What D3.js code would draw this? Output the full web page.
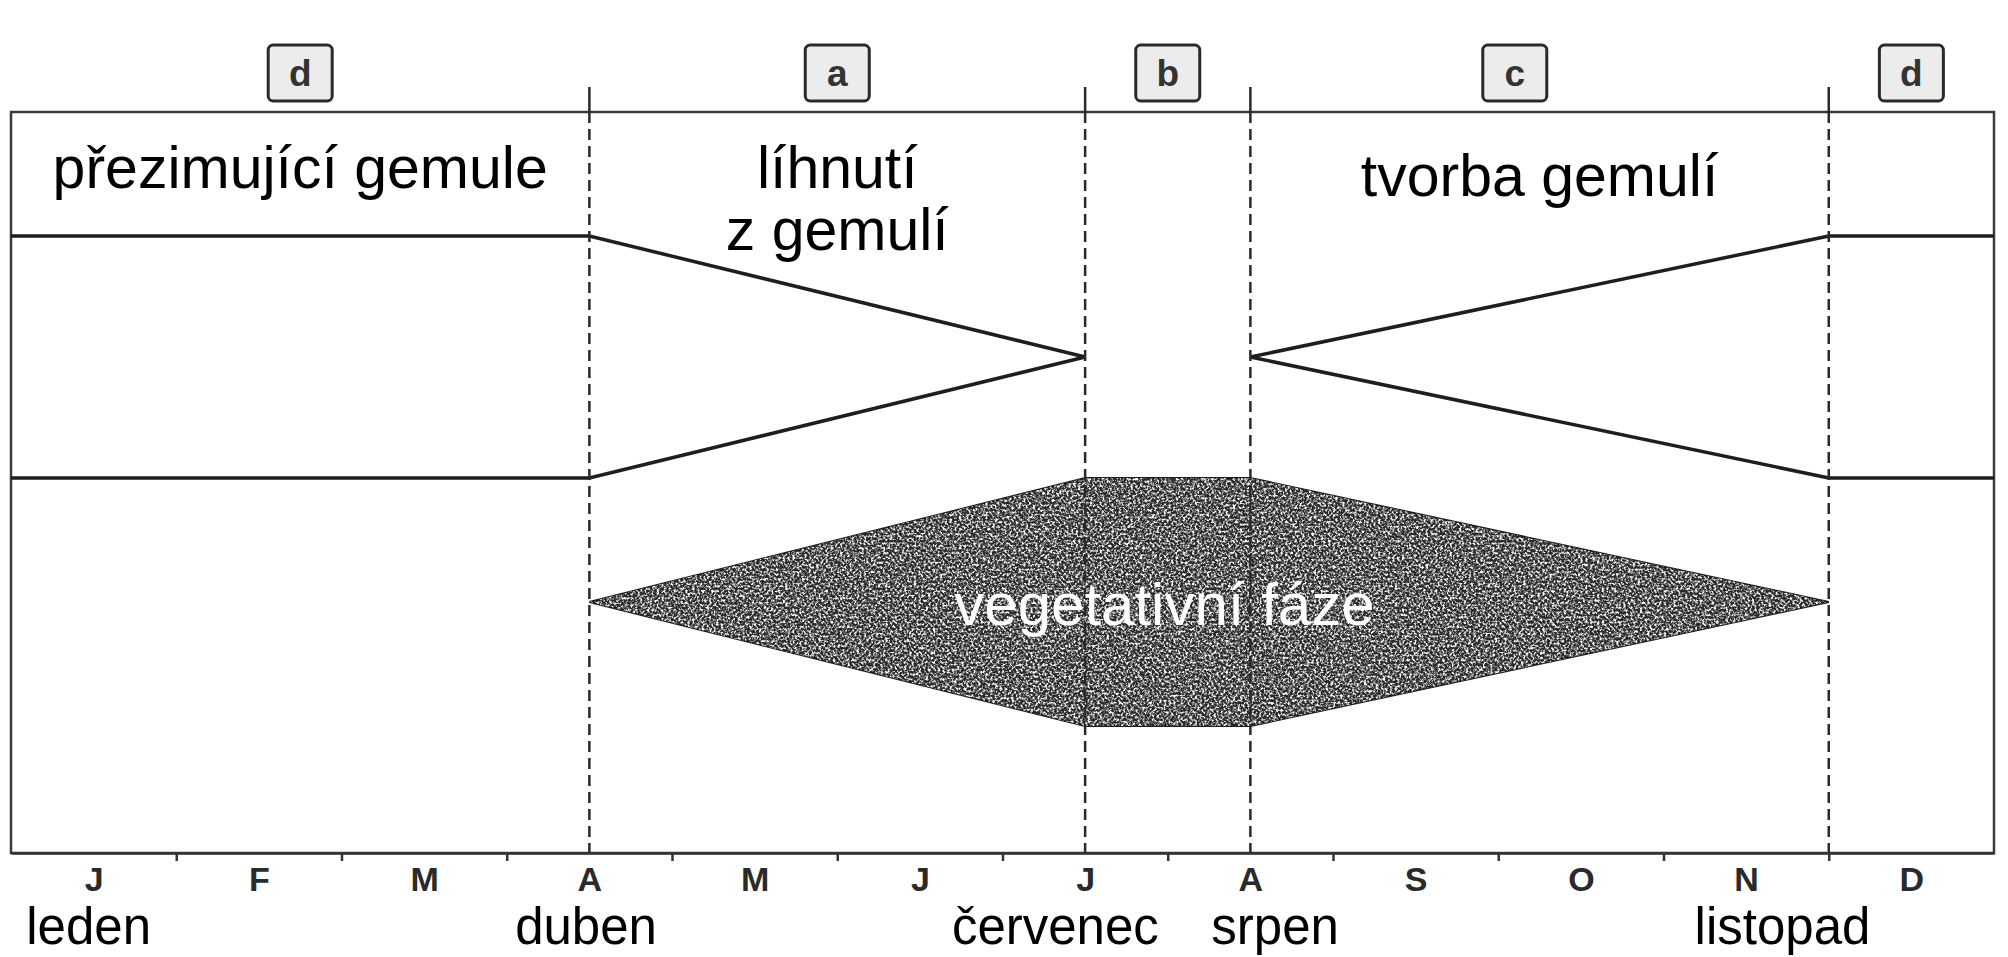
<!DOCTYPE html>
<html>
<head>
<meta charset="utf-8">
<script src="https://cdn.jsdelivr.net/npm/d3@7/dist/d3.min.js"></script>
<style>
  html, body { margin: 0; padding: 0; background: #fff; }
  svg { display: block; }
  text { font-family: "Liberation Sans", Arial, sans-serif; }
</style>
</head>
<body>
<svg id="chart" width="2008" height="957"></svg>
<script>
// month letters on the bottom axis (Jan..Dec)
const monthLetters = ["J", "F", "M", "A", "M", "J", "J", "A", "S", "O", "N", "D"];

// phase boundaries, in months counted from 1 January
const phaseBounds = [3.5, 6.5, 7.5, 11];
const phaseKeys = ["d", "a", "b", "c", "d"];
const phaseKeyMonths = [1.75, 5, 7, 9.1, 11.5];

// phase titles inside the frame
const phaseTitles = [["přezimující gemule"], ["líhnutí", "z gemulí"], ["tvorba gemulí"]];
const phaseTitleMonths = [1.75, 5, 9.25];

// gemule band (relative amount 0..1)
const gemuleSpringMonths = [0, 3.5, 6.5];
const gemuleSpringValues = [1, 1, 0];
const gemuleAutumnMonths = [7.5, 11, 12];
const gemuleAutumnValues = [0, 1, 1];

// vegetative phase band (relative amount 0..1)
const vegMonths = [3.5, 6.5, 7.5, 11];
const vegValues = [0, 1, 1, 0];
const vegLabel = "vegetativní fáze";
const vegLabelMonth = 6.98;

// Czech month names under the axis
const bottomLabels = ["leden", "duben", "červenec", "srpen", "listopad"];
const bottomLabelMonths = [0.47, 3.48, 6.32, 7.65, 10.72];

const zip = (ms, vs) => ms.map((m, i) => ({ m, v: vs[i] }));

const svg = d3.select("#chart");
const frame = { left: 11, right: 1994, top: 112, bottom: 853 };

// scales
const x = d3.scaleLinear().domain([0, 12]).range([frame.left, frame.right]);
const yGem = d3.scaleLinear().domain([-1, 1]).range([478, 236]);
const yVeg = d3.scaleLinear().domain([-1, 1]).range([726, 478]);

// speckled texture for the vegetative phase
const defs = svg.append("defs");
const f = defs.append("filter").attr("id", "speckle")
  .attr("x", 0).attr("y", 0).attr("width", "100%").attr("height", "100%");
f.append("feTurbulence").attr("type", "fractalNoise")
  .attr("baseFrequency", 0.42).attr("numOctaves", 3).attr("seed", 7).attr("result", "n");
f.append("feColorMatrix").attr("in", "n").attr("type", "matrix")
  .attr("values", "0 0 0 0 1  0 0 0 0 1  0 0 0 0 1  3.4 0 0 0 -1.45").attr("result", "sp");
f.append("feComposite").attr("in", "sp").attr("in2", "SourceAlpha").attr("operator", "in");

// frame
svg.append("rect")
  .attr("x", frame.left).attr("y", frame.top)
  .attr("width", frame.right - frame.left).attr("height", frame.bottom - frame.top)
  .attr("fill", "none").attr("stroke", "#3a3a3a").attr("stroke-width", 2.5);

// vegetative phase
const vegArea = d3.area()
  .x(d => x(d.m))
  .y0(d => yVeg(-d.v))
  .y1(d => yVeg(d.v));
const vegData = zip(vegMonths, vegValues);
svg.append("path").datum(vegData).attr("d", vegArea)
  .attr("fill", "#2a2a2a").attr("stroke", "#1e1e1e").attr("stroke-width", 2);
svg.append("path").datum(vegData).attr("d", vegArea)
  .attr("fill", "#000").attr("filter", "url(#speckle)");

// gemule lines
const upper = d3.line().x(d => x(d.m)).y(d => yGem(d.v));
const lower = d3.line().x(d => x(d.m)).y(d => yGem(-d.v));
[zip(gemuleSpringMonths, gemuleSpringValues), zip(gemuleAutumnMonths, gemuleAutumnValues)]
  .forEach(series => {
    [upper, lower].forEach(gen => {
      svg.append("path").datum(series).attr("d", gen)
        .attr("fill", "none").attr("stroke", "#1e1e1e").attr("stroke-width", 3.5);
    });
  });

// phase boundaries: solid tick above the frame, dashed inside
const bounds = svg.append("g").attr("stroke", "#2a2a2a").attr("stroke-width", 2.5);
bounds.selectAll(".tick-top").data(phaseBounds).join("line")
  .attr("x1", d => x(d)).attr("x2", d => x(d))
  .attr("y1", 87).attr("y2", frame.top);
bounds.selectAll(".dash").data(phaseBounds).join("line")
  .attr("x1", d => x(d)).attr("x2", d => x(d))
  .attr("y1", frame.top).attr("y2", frame.bottom)
  .attr("stroke-dasharray", "11 6");

// phase key boxes
const keys = svg.append("g").selectAll("g").data(phaseKeys).join("g")
  .attr("transform", (d, i) => `translate(${x(phaseKeyMonths[i])},0)`);
keys.append("rect")
  .attr("x", -32).attr("y", 45).attr("width", 64).attr("height", 56).attr("rx", 5)
  .attr("fill", "#ececec").attr("stroke", "#2a2a2a").attr("stroke-width", 3);
keys.append("text")
  .attr("y", 86).attr("text-anchor", "middle")
  .attr("font-size", 37).attr("font-weight", "bold").attr("fill", "#333")
  .text(d => d);

// phase titles
phaseTitles.forEach((lines, i) => {
  const t = svg.append("text")
    .attr("x", x(phaseTitleMonths[i])).attr("y", i === 2 ? 196 : 188)
    .attr("text-anchor", "middle").attr("font-size", 59).attr("fill", "#000");
  lines.forEach((s, j) => {
    t.append("tspan").attr("x", x(phaseTitleMonths[i])).attr("dy", j ? 62 : 0).text(s);
  });
});

// vegetative label
svg.append("text")
  .attr("x", x(vegLabelMonth)).attr("y", 625)
  .attr("text-anchor", "middle").attr("font-size", 60).attr("fill", "#fff")
  .text(vegLabel);

// month axis: ticks at month boundaries
svg.append("g")
  .attr("transform", `translate(0,${frame.bottom})`)
  .call(d3.axisBottom(x).tickValues(d3.range(1, 12)).tickSize(8).tickSizeOuter(0).tickFormat(""))
  .call(g => g.selectAll("path, line").attr("stroke", "#333").attr("stroke-width", 2.5));

// month letters centred in each month
svg.append("g")
  .attr("transform", `translate(0,${frame.bottom})`)
  .call(d3.axisBottom(x).tickValues(d3.range(12).map(i => i + 0.5))
    .tickSize(0).tickPadding(14).tickFormat((d, i) => monthLetters[i]))
  .call(g => g.select(".domain").remove())
  .call(g => g.selectAll("text")
    .attr("font-family", "'Liberation Sans', Arial, sans-serif")
    .attr("font-size", 34).attr("font-weight", "bold").attr("fill", "#2a2a2a"));

// Czech month names
svg.append("g").selectAll("text").data(bottomLabels).join("text")
  .attr("x", (d, i) => x(bottomLabelMonths[i])).attr("y", 944)
  .attr("text-anchor", "middle").attr("font-size", 51).attr("fill", "#000")
  .text(d => d);
</script>
</body>
</html>
